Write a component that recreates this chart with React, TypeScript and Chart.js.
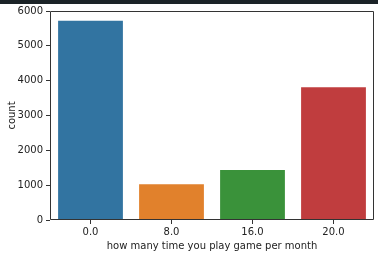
import React, { useEffect, useRef } from "react";
import { Chart, registerables } from "chart.js";

Chart.register(...registerables);

const categories = ["0.0", "8.0", "16.0", "20.0"];
const counts = [5720, 1025, 1436, 3810];
const barColors = ["#3274a1", "#e1812c", "#3a923a", "#c03d3e"];
const yTicks = [0, 1000, 2000, 3000, 4000, 5000, 6000];
const xTitle = "how many time you play game per month";
const yTitle = "count";

const FONT = "'DejaVu Sans', sans-serif";

const framePlugin = {
  id: "frame",
  beforeDraw(chart: any) {
    const { ctx, width } = chart;
    ctx.save();
    ctx.fillStyle = "#1b2327";
    ctx.fillRect(0, 0, width, 4);
    ctx.restore();
  },
  afterDraw(chart: any) {
    const { ctx, chartArea } = chart;
    const l = Math.round(chartArea.left) + 0.5;
    const t = Math.round(chartArea.top) + 0.5;
    const r = Math.round(chartArea.right) - 0.5;
    const b = Math.round(chartArea.bottom) - 0.5;
    ctx.save();
    ctx.strokeStyle = "#333";
    ctx.lineWidth = 1;
    ctx.beginPath();
    ctx.moveTo(l, t);
    ctx.lineTo(r, t);
    ctx.lineTo(r, b);
    ctx.lineTo(l, b);
    ctx.closePath();
    ctx.stroke();
    ctx.restore();
  },
};

export default function App() {
  const ref = useRef<HTMLCanvasElement | null>(null);
  useEffect(() => {
    document.body.style.margin = "0";
    const chart = new Chart(ref.current as HTMLCanvasElement, {
      type: "bar",
      data: {
        labels: categories,
        datasets: [
          {
            data: counts,
            backgroundColor: barColors,
            borderWidth: 0,
            categoryPercentage: 0.8,
            barPercentage: 1,
          },
        ],
      },
      options: {
        animation: false,
        responsive: false,
        devicePixelRatio: 1,
        layout: { padding: { top: 11, right: 4, left: 0, bottom: 0 } },
        plugins: { legend: { display: false }, tooltip: { enabled: false } },
        scales: {
          x: {
            grid: {
              display: true,
              drawOnChartArea: false,
              drawTicks: true,
              tickLength: 4,
              color: "#333",
              offset: false,
            },
            border: { display: false },
            ticks: { color: "#222", padding: 2, font: { family: FONT, size: 10 } },
            title: {
              display: true,
              text: xTitle,
              color: "#222",
              font: { family: FONT, size: 10 },
              padding: { top: 0, bottom: 4 },
            },
            afterFit: (s: any) => {
              s.height = 36;
            },
          },
          y: {
            min: 0,
            max: 6000,
            afterBuildTicks: (s: any) => {
              s.ticks = yTicks.map((v) => ({ value: v }));
            },
            grid: {
              display: true,
              drawOnChartArea: false,
              drawTicks: true,
              tickLength: 4,
              color: "#333",
            },
            border: { display: false },
            ticks: {
              color: "#222",
              padding: 3,
              font: { family: FONT, size: 10 },
              callback: (v: any) => String(v),
            },
            title: {
              display: true,
              text: yTitle,
              color: "#222",
              font: { family: FONT, size: 10 },
              padding: { top: 6, bottom: 0 },
            },
            afterFit: (s: any) => {
              s.width = 50;
            },
          },
        },
      },
      plugins: [framePlugin],
    });
    return () => chart.destroy();
  }, []);
  return (
    <div style={{ position: "fixed", left: 0, top: 0, width: 378, height: 256, background: "#fff" }}>
      <canvas ref={ref} width={378} height={256} style={{ display: "block" }} />
    </div>
  );
}
